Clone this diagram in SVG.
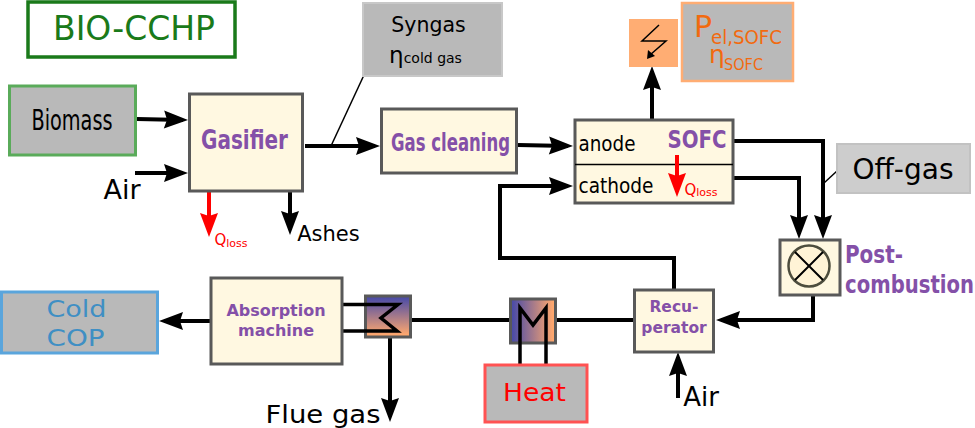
<svg xmlns="http://www.w3.org/2000/svg" width="975" height="428" viewBox="0 0 975 428">
<style>
text{font-family:"DejaVu Sans",sans-serif;text-anchor:middle}
.box{fill:#fff8e1;stroke:#595959;stroke-width:3}
.gray{fill:#b9b9b9;stroke-width:3}
.p{fill:#8450a8;font-weight:bold}
.l{fill:none;stroke:#000;stroke-width:4}
.a{marker-end:url(#ah)}
.r{fill:none;stroke:#f00;stroke-width:4;marker-end:url(#ar)}
.t{fill:none;stroke:#000;stroke-width:1.5}
</style>
<defs>
<marker id="ah" markerUnits="userSpaceOnUse" markerWidth="26" markerHeight="20" refX="19" refY="9" orient="auto" overflow="visible"><path d="M0,0 L24,9 L0,18 L3,9 Z" fill="#000"/></marker>
<marker id="ar" markerUnits="userSpaceOnUse" markerWidth="26" markerHeight="20" refX="19" refY="9" orient="auto" overflow="visible"><path d="M0,0 L24,9 L0,18 L3,9 Z" fill="#f00"/></marker>
<linearGradient id="gv" x1="0" y1="0" x2="0" y2="1"><stop offset="0.05" stop-color="#4c4ca6"/><stop offset="0.95" stop-color="#ffa86e"/></linearGradient>
<linearGradient id="gh" x1="0" y1="0" x2="1" y2="0"><stop offset="0.05" stop-color="#4c4ca6"/><stop offset="0.95" stop-color="#ffa86e"/></linearGradient>
</defs>
<g id="connectors">
<path class="l a" d="M137,119 L183,120"/>
<path class="l a" d="M135,173 L183,173"/>
<path class="l a" d="M305,146 L375,146"/>
<path class="t" d="M331,146 L364,75"/>
<path class="l a" d="M290,192 L290,230"/>
<path class="r" d="M209,192 L209,232"/>
<path class="l a" d="M518,145 L568,146"/>
<path class="l a" d="M674,289 L674,258 L500,258 L500,186 L568,186"/>
<path class="l a" d="M652,119 L652,71"/>
<path class="l a" d="M734,141 L823,141 L823,234"/>
<path class="l a" d="M734,178 L799,178 L799,234"/>
<path class="t" d="M824,183 L837,171"/>
<path class="l a" d="M813,295 L813,320 L721,320"/>
<path class="l a" d="M678,398 L678,357"/>
<path class="l" d="M556,320 L634,320"/>
<path class="l" d="M411,320 L511,320"/>
<path class="l a" d="M210,321 L164,321"/>
<path class="l a" d="M390,338 L390,417"/>
</g>
<g id="bio-cchp"><rect x="28" y="2" width="207" height="55" fill="#fff" stroke="#1a7a1a" stroke-width="3.500"/><text x="134" y="40" font-size="33" fill="#1a7a1a">BIO-CCHP</text></g>
<g id="biomass"><rect x="9.500" y="86" width="126" height="69" class="gray" stroke="#5aab5a"/><text x="72" y="130" font-size="28" textLength="81" lengthAdjust="spacingAndGlyphs">Biomass</text></g>
<g id="air-1"><text x="122" y="199" font-size="27">Air</text></g>
<g id="gasifier"><rect x="189.500" y="94" width="113" height="97" class="box"/><text x="244.500" y="149" font-size="26" class="p" textLength="87" lengthAdjust="spacingAndGlyphs">Gasifier</text></g>
<g id="qloss-1"><text x="231" y="245" font-size="15" fill="#f00">Q<tspan font-size="11" dy="2">loss</tspan></text></g>
<g id="ashes"><text x="328.500" y="241" font-size="21">Ashes</text></g>
<g id="syngas"><rect x="363" y="3" width="139" height="73" fill="#b9b9b9" stroke="#c8c8c8" stroke-width="2"/><text x="428.500" y="32" font-size="20.500">Syngas</text><text x="425.500" y="63"><tspan font-size="23">η</tspan><tspan font-size="14">cold gas</tspan></text></g>
<g id="gas-cleaning"><rect x="381.500" y="109" width="135" height="64" class="box"/><text x="450.500" y="151" font-size="24" class="p" textLength="119" lengthAdjust="spacingAndGlyphs">Gas cleaning</text></g>
<g id="sofc"><rect x="575" y="120" width="158" height="83" class="box"/><path d="M575,164.500 H733" stroke="#000" stroke-width="1.500"/><text x="607" y="151" font-size="22" textLength="57" lengthAdjust="spacingAndGlyphs">anode</text><text x="616" y="193" font-size="22" textLength="75" lengthAdjust="spacingAndGlyphs">cathode</text><text x="697" y="148" font-size="24" class="p" textLength="59" lengthAdjust="spacingAndGlyphs">SOFC</text><path class="r" d="M677,155 L677,192"/><text x="701" y="195" font-size="15" fill="#f00">Q<tspan font-size="11" dy="1">loss</tspan></text></g>
<g id="electric"><rect x="629" y="19" width="49" height="48" fill="#ffad73"/><path d="M659,25 L642,41 L666,41 L650,55" fill="none" stroke="#000" stroke-width="1.500"/><path d="M647,59 L648,50 L655,56 Z" fill="#000"/></g>
<g id="pel-sofc"><rect x="682" y="3" width="111" height="78" fill="#b9b9b9" stroke="#ffad73" stroke-width="2.500"/><text y="37" fill="#f26a0f" style="text-anchor:start"><tspan x="694" font-size="30">P</tspan><tspan x="711" y="44" font-size="19" textLength="71" lengthAdjust="spacingAndGlyphs">el,SOFC</tspan></text><text y="63" fill="#f26a0f" style="text-anchor:start"><tspan x="709" font-size="25">η</tspan><tspan x="724" y="70" font-size="16" textLength="39" lengthAdjust="spacingAndGlyphs">SOFC</tspan></text></g>
<g id="off-gas"><rect x="837" y="144" width="133" height="49" fill="#cdcdcd" stroke="#c2c2c2" stroke-width="2"/><text x="903" y="179" font-size="28">Off-gas</text></g>
<g id="post-combustion"><rect x="780" y="240" width="60" height="55" class="box"/><circle cx="809" cy="266" r="20.500" fill="#fff3d6" stroke="#4d4d3d" stroke-width="2.500"/><path d="M795,252 L823,280 M823,252 L795,280" stroke="#000" stroke-width="2"/><text x="845" y="263" font-size="24" class="p" style="text-anchor:start" textLength="58" lengthAdjust="spacingAndGlyphs">Post-</text><text x="845" y="293" font-size="24" class="p" style="text-anchor:start" textLength="129" lengthAdjust="spacingAndGlyphs">combustion</text></g>
<g id="recuperator"><rect x="634.500" y="290" width="79" height="62" class="box"/><text x="674" y="312" font-size="15.500" class="p">Recu-</text><text x="674" y="333" font-size="15.500" class="p">perator</text></g>
<g id="air-2"><text x="701" y="406" font-size="26">Air</text></g>
<g id="hx-right"><rect x="510.500" y="299" width="45" height="44" fill="url(#gh)" stroke="#595959" stroke-width="3"/><path d="M520,364 V308 L533,325 L546,308 V364" fill="none" stroke="#000" stroke-width="3.500"/></g>
<g id="heat"><rect x="485" y="365" width="102" height="57" fill="#b9b9b9" stroke="#ff5252" stroke-width="3"/><text x="534.500" y="401" font-size="25" fill="#f00" textLength="63" lengthAdjust="spacingAndGlyphs">Heat</text></g>
<g id="hx-left"><rect x="365.500" y="296" width="45" height="41" fill="url(#gv)" stroke="#595959" stroke-width="3"/><path d="M342,304.500 H398 L381,318 L397,331 H342" fill="none" stroke="#000" stroke-width="3.500"/></g>
<g id="absorption"><rect x="211" y="278" width="131" height="86" class="box"/><text x="276" y="316" font-size="16" class="p">Absorption</text><text x="276" y="336" font-size="16" class="p">machine</text></g>
<g id="cold"><rect x="1.500" y="292" width="156" height="61" fill="#b9b9b9" stroke="#5aa5dc" stroke-width="3"/><text x="76.500" y="317" font-size="23" fill="#3f8fc4" textLength="60" lengthAdjust="spacingAndGlyphs">Cold</text><text x="75.500" y="346" font-size="23" fill="#3f8fc4" textLength="58" lengthAdjust="spacingAndGlyphs">COP</text></g>
<g id="flue-gas"><text x="323" y="423" font-size="25" textLength="115" lengthAdjust="spacingAndGlyphs">Flue gas</text></g>
</svg>
